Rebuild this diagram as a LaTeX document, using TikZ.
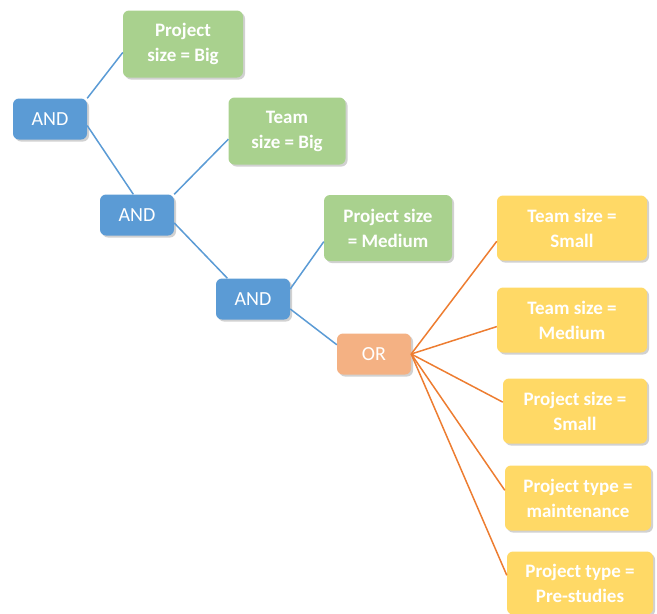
\documentclass[tikz,border=0pt]{standalone}
\usepackage{fontspec}
\setmainfont{Carlito}
\usetikzlibrary{shadows}
\definecolor{andblue}{HTML}{5B9BD5}
\definecolor{leafgreen}{HTML}{A9D18E}
\definecolor{orpeach}{HTML}{F4B183}
\definecolor{leafyellow}{HTML}{FFD966}
\definecolor{orline}{HTML}{ED7D31}
\begin{document}
\begin{tikzpicture}[x=1pt,y=-1pt,
  box/.style={shape=rectangle,rounded corners=6pt,text=white,align=center,
    font=\bfseries\fontsize{19}{25}\selectfont,inner sep=1pt,
    drop shadow={shadow xshift=2pt,shadow yshift=-2pt,opacity=0.3,fill=black!60}},
  gate/.style={box,fill=andblue,minimum width=74pt,minimum height=41pt,font=\fontsize{20}{24}\selectfont},
  orgate/.style={gate,fill=orpeach},
  greenleaf/.style={box,fill=leafgreen,minimum height=67pt},
  yellowleaf/.style={box,fill=leafyellow,minimum width=146pt,minimum height=65pt},
  blueline/.style={draw=andblue,line width=1.5pt},
  orangeline/.style={draw=orline,line width=1.5pt}]
  \useasboundingbox (0,0) rectangle (657,614);
  \node[gate] (and1) at (50,119) {AND};
  \node[gate] (and2) at (137,215) {AND};
  \node[gate] (and3) at (253,299) {AND};
  \node[orgate] (or) at (374,354) {OR};
  \node[greenleaf,minimum width=120pt] (projbig) at (183,44) {Project\\size = Big};
  \node[greenleaf,minimum width=117pt] (teambig) at (287,131) {Team\\size = Big};
  \node[greenleaf,minimum width=128pt,minimum height=66pt] (projmed) at (388,228) {Project size\\= Medium};
  \node[yellowleaf,minimum width=150pt] (teamsmall) at (572,228) {Team size =\\Small};
  \node[yellowleaf,minimum width=150pt] (teammed) at (572,320) {Team size =\\Medium};
  \node[yellowleaf,minimum width=144pt] (projsmall) at (575,411) {Project size =\\Small};
  \node[yellowleaf] (projmaint) at (578,498) {Project type =\\maintenance};
  \node[yellowleaf,minimum height=63pt] (projpre) at (580,583) {Project type =\\Pre-studies};
  \path [blueline](and1.north east) edge (projbig.188);
  \path [blueline](and1.-10) edge (and2.100);
  \path [blueline](and2.north east) edge (teambig.188);
  \path [blueline](and2.-12) edge (and3.141);
  \path [blueline](and3.15) edge (projmed.192);
  \path [blueline](and3.-15) edge (or.166);
  \path [orangeline](or.east) edge (teamsmall.190);
  \path [orangeline](or.east) edge (teammed.185);
  \path [orangeline](or.east) edge (projsmall.173);
  \path [orangeline](or.east) edge (projmaint.174);
  \path [orangeline](or.east) edge (projpre.174);
\end{tikzpicture}
\end{document}
